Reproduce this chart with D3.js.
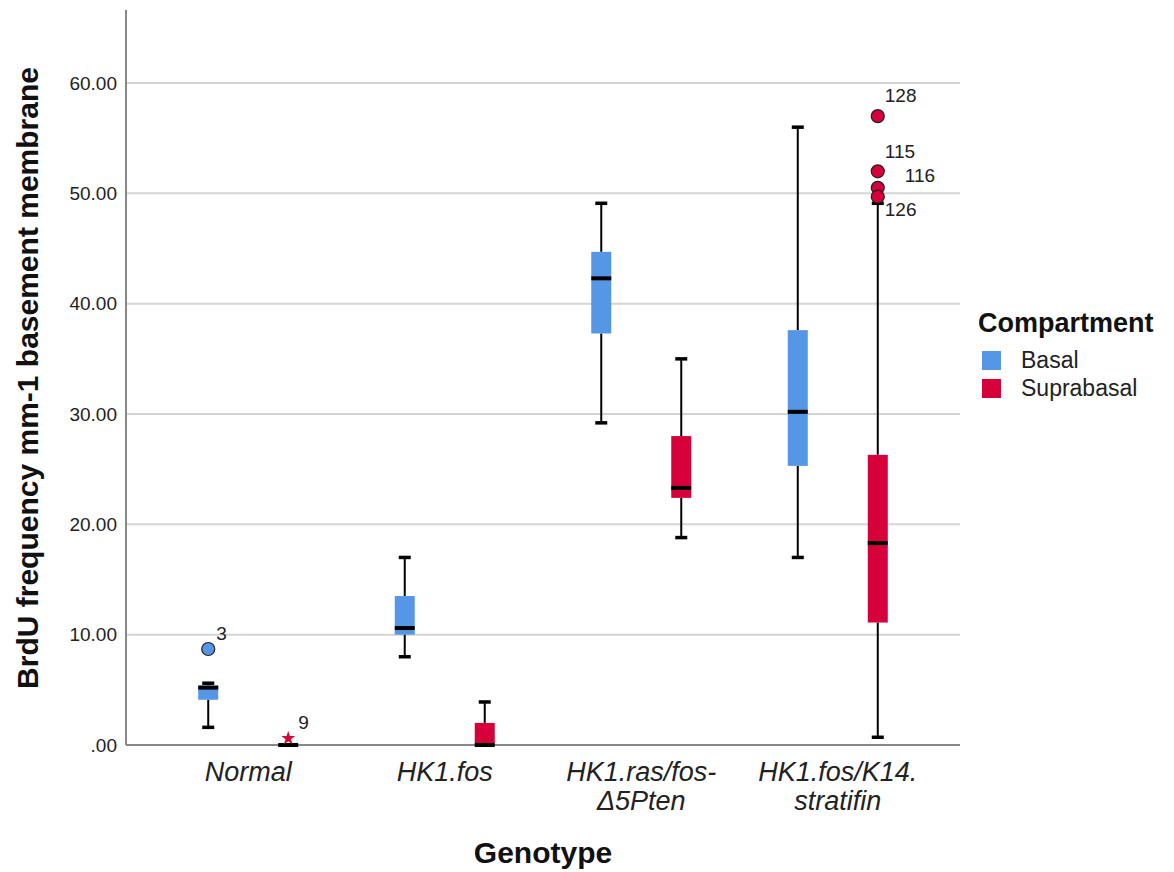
<!DOCTYPE html>
<html>
<head>
<meta charset="utf-8">
<script src="https://cdn.jsdelivr.net/npm/d3@7"></script>
<style>
  html, body { margin: 0; padding: 0; background: #fff; }
  svg { display: block; font-family: "Liberation Sans", Arial, sans-serif; }
</style>
</head>
<body>
<svg id="chart" width="1174" height="872"></svg>
<script>
// ---- Data ----
const genotypes = ["Normal", "HK1.fos", "HK1.ras/fos-Δ5Pten", "HK1.fos/K14.stratifin"];
const genotypeLabelLines = [["Normal"], ["HK1.fos"], ["HK1.ras/fos-", "Δ5Pten"], ["HK1.fos/K14.", "stratifin"]];
const compartments = ["Basal", "Suprabasal"];
const yTicks = [0, 10, 20, 30, 40, 50, 60];

const basalMin    = [1.6, 8.0, 29.2, 17.0];
const basalQ1     = [4.1, 10.0, 37.3, 25.3];
const basalMedian = [5.2, 10.6, 42.3, 30.2];
const basalQ3     = [5.4, 13.5, 44.7, 37.6];
const basalMax    = [5.6, 17.0, 49.1, 56.0];

const supraMin    = [0, 0, 18.8, 0.7];
const supraQ1     = [0, 0, 22.4, 11.1];
const supraMedian = [0, 0, 23.3, 18.3];
const supraQ3     = [0, 2.0, 28.0, 26.3];
const supraMax    = [0, 3.9, 35.0, 49.1];

const outlierGenotype    = ["Normal", "Normal", "HK1.fos/K14.stratifin", "HK1.fos/K14.stratifin", "HK1.fos/K14.stratifin", "HK1.fos/K14.stratifin"];
const outlierCompartment = ["Basal", "Suprabasal", "Suprabasal", "Suprabasal", "Suprabasal", "Suprabasal"];
const outlierValue       = [8.7, 0.6, 57.0, 52.0, 50.5, 49.7];
const outlierCase        = ["3", "9", "128", "115", "116", "126"];
const outlierExtreme     = [false, true, false, false, false, false];

// ---- Build records ----
const boxes = [];
genotypes.forEach((g, i) => {
  boxes.push({g, c: "Basal", min: basalMin[i], q1: basalQ1[i], med: basalMedian[i], q3: basalQ3[i], max: basalMax[i]});
  boxes.push({g, c: "Suprabasal", min: supraMin[i], q1: supraQ1[i], med: supraMedian[i], q3: supraQ3[i], max: supraMax[i]});
});
const outliers = outlierValue.map((v, i) => ({g: outlierGenotype[i], c: outlierCompartment[i], v, id: outlierCase[i], extreme: outlierExtreme[i]}));

// ---- Layout ----
const svg = d3.select("#chart");
const mLeft = 126, mRight = 960, mTop = 10, mBottom = 745;
const colors = {"Basal": "#5596E6", "Suprabasal": "#D6003A"};

const x = d3.scalePoint().domain(genotypes).range([mLeft, mRight]).padding(0.622);
const xc = d3.scalePoint().domain(compartments).range([-40, 40]);
const y = d3.scaleLinear().domain([0, 66.62]).range([mBottom, mTop]);

// gridlines
svg.append("g").selectAll("line").data(yTicks.filter(t => t > 0)).join("line")
  .attr("x1", mLeft).attr("x2", mRight)
  .attr("y1", d => y(d)).attr("y2", d => y(d))
  .attr("stroke", "#d4d4d4").attr("stroke-width", 2);

// y axis
const yAxis = d3.axisLeft(y).tickValues(yTicks).tickSize(0).tickPadding(9)
  .tickFormat(d => d === 0 ? ".00" : d3.format(".2f")(d));
const gy = svg.append("g").attr("transform", `translate(${mLeft},0)`).call(yAxis);
gy.select(".domain").remove();
gy.selectAll("text").attr("font-size", 19).attr("fill", "#222")
  .attr("font-family", "'Liberation Sans', Arial, sans-serif");

// axis lines
svg.append("line").attr("x1", mLeft).attr("x2", mLeft).attr("y1", mTop).attr("y2", mBottom)
  .attr("stroke", "#888").attr("stroke-width", 2);
svg.append("line").attr("x1", mLeft).attr("x2", mRight).attr("y1", mBottom).attr("y2", mBottom)
  .attr("stroke", "#888").attr("stroke-width", 2);

// x axis labels
const gx = svg.append("g");
genotypes.forEach((g, i) => {
  const t = gx.append("text").attr("x", x(g)).attr("y", 781)
    .attr("text-anchor", "middle").attr("font-style", "italic").attr("font-size", 27).attr("fill", "#222");
  genotypeLabelLines[i].forEach((ln, j) => {
    t.append("tspan").attr("x", x(g)).attr("dy", j === 0 ? 0 : 29).text(ln);
  });
});

// boxes
const bw = 20, capW = 12;
const bg = svg.append("g");
boxes.forEach(b => {
  const cx = x(b.g) + xc(b.c);
  if (b.max > b.q3) {
    bg.append("line").attr("x1", cx).attr("x2", cx).attr("y1", y(b.q3)).attr("y2", y(b.max)).attr("stroke", "#000").attr("stroke-width", 2);
    bg.append("line").attr("x1", cx - capW / 2).attr("x2", cx + capW / 2).attr("y1", y(b.max)).attr("y2", y(b.max)).attr("stroke", "#000").attr("stroke-width", 3.5);
  }
  if (b.min < b.q1) {
    bg.append("line").attr("x1", cx).attr("x2", cx).attr("y1", y(b.q1)).attr("y2", y(b.min)).attr("stroke", "#000").attr("stroke-width", 2);
    bg.append("line").attr("x1", cx - capW / 2).attr("x2", cx + capW / 2).attr("y1", y(b.min)).attr("y2", y(b.min)).attr("stroke", "#000").attr("stroke-width", 3.5);
  }
  bg.append("rect").attr("x", cx - bw / 2).attr("width", bw)
    .attr("y", y(b.q3)).attr("height", Math.max(0, y(b.q1) - y(b.q3)))
    .attr("fill", colors[b.c]);
  bg.append("line").attr("x1", cx - bw / 2).attr("x2", cx + bw / 2)
    .attr("y1", y(b.med)).attr("y2", y(b.med)).attr("stroke", "#000").attr("stroke-width", 4);
});

// outliers
const star = d3.symbol().type(d3.symbolStar).size(60);
const labelOffsets = {"3": [8, -9], "9": [10, -9], "128": [7, -14], "115": [7, -13], "116": [27, -6], "126": [7, 19]};
outliers.forEach(o => {
  const cx = x(o.g) + xc(o.c), cy = y(o.v);
  if (o.extreme) {
    bg.append("path").attr("d", star()).attr("transform", `translate(${cx},${cy})`).attr("fill", colors[o.c]);
  } else {
    bg.append("circle").attr("cx", cx).attr("cy", cy).attr("r", 6.5)
      .attr("fill", colors[o.c]).attr("stroke", "#222").attr("stroke-width", 1.2);
  }
  const off = labelOffsets[o.id];
  bg.append("text").attr("x", cx + off[0]).attr("y", cy + off[1]).attr("font-size", 19).attr("fill", "#222").text(o.id);
});

// axis titles
svg.append("text").attr("x", (mLeft + mRight) / 2).attr("y", 863).attr("text-anchor", "middle")
  .attr("font-weight", "bold").attr("font-size", 30).attr("fill", "#111").text("Genotype");
svg.append("text").attr("transform", `translate(38,${(68 + 688) / 2}) rotate(-90)`).attr("text-anchor", "middle")
  .attr("font-weight", "bold").attr("font-size", 30).attr("fill", "#111").text("BrdU frequency mm-1 basement membrane");

// legend
const lg = svg.append("g");
lg.append("text").attr("x", 978).attr("y", 332).attr("font-weight", "bold").attr("font-size", 27).attr("fill", "#111").text("Compartment");
compartments.forEach((c, i) => {
  lg.append("rect").attr("x", 982).attr("y", 351 + i * 28).attr("width", 19).attr("height", 19).attr("fill", colors[c]);
  lg.append("text").attr("x", 1021).attr("y", 368 + i * 28).attr("font-size", 23).attr("fill", "#222").text(c);
});
</script>
</body>
</html>
